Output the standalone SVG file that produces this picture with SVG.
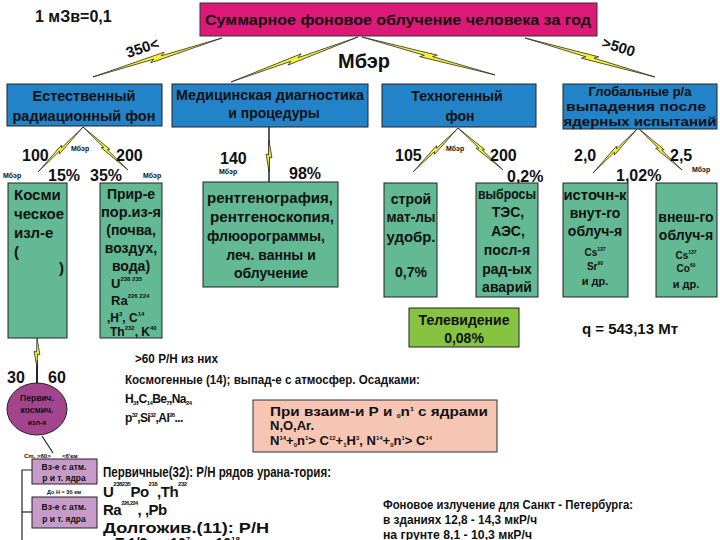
<svg xmlns="http://www.w3.org/2000/svg" width="720" height="540" viewBox="0 0 720 540">
<defs>
<style>
text{font-family:"Liberation Sans",Arial,sans-serif;fill:#111;font-weight:bold}
.c{text-anchor:middle}
.blue{fill:#2283C8;stroke:#222;stroke-width:1}
.grn{fill:#62B994;stroke:#222;stroke-width:1}
.bolt{fill:#F7F230;stroke:#2a2a2a;stroke-width:0.8;stroke-linejoin:miter}
.lav{fill:#C79BC9;stroke:#222;stroke-width:1}
</style>
<path id="bolt" d="M0,0 L56,-2.4 L53,-0.4 L100,0 L44,2.4 L47,0.4 Z" vector-effect="non-scaling-stroke"/>
</defs>
<rect width="720" height="540" fill="#fff"/>

<g id="connectors">
<use href="#bolt" class="bolt" transform="translate(222,38) rotate(163.2) scale(1.348,1.3)"/>
<use href="#bolt" class="bolt" transform="translate(358,37) rotate(160.5) scale(1.347,1.3)"/>
<use href="#bolt" class="bolt" transform="translate(362,37) rotate(15.9) scale(1.383,1.3)"/>
<use href="#bolt" class="bolt" transform="translate(525,38) rotate(16.7) scale(1.357,1.3)"/>
<use href="#bolt" class="bolt" transform="translate(83,127) rotate(135) scale(0.636,1)"/>
<use href="#bolt" class="bolt" transform="translate(83,127) rotate(43.7) scale(0.622,1)"/>
<use href="#bolt" class="bolt" transform="translate(458,128) rotate(135.6) scale(0.629,1)"/>
<use href="#bolt" class="bolt" transform="translate(458,128) rotate(43) scale(0.615,1)"/>
<use href="#bolt" class="bolt" transform="translate(638,128) rotate(135) scale(0.636,1)"/>
<use href="#bolt" class="bolt" transform="translate(638,128) rotate(43.7) scale(0.608,1)"/>
<line x1="269" y1="127" x2="269" y2="182" stroke="#222" stroke-width="1.5"/>
<use href="#bolt" class="bolt" transform="translate(269,140) rotate(90) scale(0.32,1.2)"/>
<line x1="37" y1="360" x2="37" y2="384" stroke="#223" stroke-width="2"/>
<use href="#bolt" class="bolt" transform="translate(37,338) rotate(90) scale(0.3,1.2)"/>
<line x1="42" y1="436" x2="53" y2="453" stroke="#222" stroke-width="1.2"/>
<polyline points="32,470 22,470 22,540" fill="none" stroke="#222" stroke-width="1.2"/>
<line x1="22" y1="512" x2="32" y2="512" stroke="#222" stroke-width="1.2"/>
</g>

<text x="35" y="22" font-size="16">1 мЗв=0,1</text>

<g id="top">
<rect x="200" y="3" width="397" height="33" fill="#DD1877" stroke="#333" stroke-width="1"/>
<text x="398" y="25" class="c" font-size="15" textLength="386" lengthAdjust="spacingAndGlyphs">Суммарное фоновое облучение человека за год</text>
</g>
<text x="128" y="58" font-size="15" transform="rotate(-18 128 58)">350&lt;</text>
<text x="338" y="68" font-size="20">Мбэр</text>
<text x="601" y="47" font-size="15" transform="rotate(17 601 47)">&gt;500</text>

<g id="natural">
<rect x="7" y="84" width="155" height="42" class="blue"/>
<text x="84" y="101" class="c" font-size="14" textLength="103" lengthAdjust="spacingAndGlyphs">Естественный</text>
<text x="84" y="121" class="c" font-size="14" textLength="143" lengthAdjust="spacingAndGlyphs">радиационный фон</text>
</g>
<g id="medical">
<rect x="172" y="84" width="196" height="43" class="blue"/>
<text x="270" y="100" class="c" font-size="14" textLength="188" lengthAdjust="spacingAndGlyphs">Медицинская диагностика</text>
<text x="274" y="118" class="c" font-size="14">и процедуры</text>
</g>
<g id="techno">
<rect x="382" y="84" width="154" height="43" class="blue"/>
<text x="457" y="101" class="c" font-size="14">Техногенный</text>
<text x="460" y="121" class="c" font-size="14">фон</text>
</g>
<g id="global">
<rect x="563" y="84" width="154" height="45" class="blue"/>
<text x="640" y="96" class="c" font-size="13">Глобальные р/а</text>
<text x="636" y="111" class="c" font-size="13" textLength="140" lengthAdjust="spacingAndGlyphs">выпадения после</text>
<text x="640" y="126" class="c" font-size="13" textLength="153" lengthAdjust="spacingAndGlyphs">ядерных испытаний</text>
</g>

<g font-size="16">
<text x="22" y="161">100</text>
<text x="116" y="161">200</text>
<text x="220" y="164">140</text>
<text x="395" y="161">105</text>
<text x="490" y="161">200</text>
<text x="574" y="161">2,0</text>
<text x="670" y="161">2,5</text>
<text x="48" y="181">15%</text>
<text x="90" y="181">35%</text>
<text x="289" y="179">98%</text>
<text x="507" y="182">0,2%</text>
<text x="616" y="181">1,02%</text>
</g>
<g font-size="7">
<text x="71" y="151">Мбэр</text>
<text x="3" y="178">Мбэр</text>
<text x="143" y="178">Мбэр</text>
<text x="219" y="174">Мбэр</text>
<text x="446" y="151">Мбэр</text>
<text x="692" y="172">Мбэр</text>
</g>

<g id="cosmic">
<rect x="8" y="183" width="59" height="155" class="grn"/>
<g font-size="15">
<text x="14" y="200">Косми</text>
<text x="14" y="219">ческое</text>
<text x="14" y="238">изл-е</text>
<text x="14" y="257">(</text>
<text x="59" y="273">)</text>
</g>
</g>
<g id="earth">
<rect x="100" y="183" width="62" height="155" class="grn"/>
<g font-size="14">
<text x="131" y="199" class="c">Прир-е</text>
<text x="131" y="217" class="c" textLength="60" lengthAdjust="spacingAndGlyphs">пор.из-я</text>
<text x="131" y="235" class="c">(почва,</text>
<text x="131" y="253" class="c">воздух,</text>
<text x="131" y="271" class="c">вода)</text>
<text x="111" y="288" font-size="13">U<tspan font-size="6" dy="-7">238 235</tspan></text>
<text x="111" y="305" font-size="13">Ra<tspan font-size="6" dy="-7">226 224</tspan></text>
<text x="107" y="322" font-size="12">,H<tspan font-size="6" dy="-6">3</tspan><tspan dy="6">, C</tspan><tspan font-size="6" dy="-6">14</tspan></text>
<text x="110" y="336" font-size="12">Th<tspan font-size="6" dy="-6">232</tspan><tspan dy="6">, K</tspan><tspan font-size="6" dy="-6">40</tspan></text>
</g>
</g>

<g id="medproc">
<rect x="203" y="182" width="135" height="105" class="grn"/>
<g font-size="14">
<text x="270" y="203" class="c" textLength="126" lengthAdjust="spacingAndGlyphs">рентгенография,</text>
<text x="272" y="222" class="c" textLength="124" lengthAdjust="spacingAndGlyphs">рентгеноскопия,</text>
<text x="266" y="241" class="c" textLength="118" lengthAdjust="spacingAndGlyphs">флюорограммы,</text>
<text x="271" y="260" class="c">леч. ванны и</text>
<text x="271" y="278" class="c">облучение</text>
</g>
</g>

<g id="build">
<rect x="384" y="183" width="53" height="114" class="grn"/>
<g font-size="14">
<text x="411" y="204" class="c">строй</text>
<text x="411" y="222" class="c" textLength="49" lengthAdjust="spacingAndGlyphs">мат-лы</text>
<text x="411" y="242" class="c" textLength="49" lengthAdjust="spacingAndGlyphs">удобр.</text>
<text x="411" y="277" class="c">0,7%</text>
</g>
</g>
<g id="emissions">
<rect x="476" y="183" width="62" height="114" class="grn"/>
<g font-size="14">
<text x="507" y="199" class="c" textLength="58" lengthAdjust="spacingAndGlyphs">выбросы</text>
<text x="508" y="217" class="c">ТЭС,</text>
<text x="508" y="236" class="c">АЭС,</text>
<text x="507" y="255" class="c">посл-я</text>
<text x="507" y="274" class="c">рад-ых</text>
<text x="507" y="292" class="c">аварий</text>
</g>
</g>
<g id="tv">
<rect x="409" y="308" width="110" height="39" fill="#86C340" stroke="#222" stroke-width="1"/>
<text x="464" y="325" class="c" font-size="14">Телевидение</text>
<text x="464" y="343" class="c" font-size="14">0,08%</text>
</g>

<g id="internal">
<rect x="563" y="183" width="65" height="114" class="grn"/>
<g font-size="14">
<text x="595" y="200" class="c" textLength="63" lengthAdjust="spacingAndGlyphs">источн-к</text>
<text x="595" y="218" class="c">внут-го</text>
<text x="595" y="236" class="c">облуч-я</text>
<text x="595" y="256" class="c" font-size="10">Cs<tspan font-size="5" dy="-5">137</tspan></text>
<text x="595" y="270" class="c" font-size="10">Sr<tspan font-size="5" dy="-5">90</tspan></text>
<text x="595" y="285" class="c" font-size="11">и др.</text>
</g>
</g>
<g id="external">
<rect x="656" y="183" width="61" height="114" class="grn"/>
<g font-size="14">
<text x="686" y="222" class="c">внеш-го</text>
<text x="686" y="240" class="c">облуч-я</text>
<text x="686" y="259" class="c" font-size="10">Cs<tspan font-size="5" dy="-5">137</tspan></text>
<text x="686" y="272" class="c" font-size="10">Co<tspan font-size="5" dy="-5">60</tspan></text>
<text x="686" y="288" class="c" font-size="11">и др.</text>
</g>
</g>
<text x="630" y="334" class="c" font-size="15">q = 543,13 Мт</text>

<text x="7" y="383" font-size="16">30</text>
<text x="48" y="383" font-size="16">60</text>
<g id="primary">
<ellipse cx="37" cy="409" rx="30" ry="26" fill="#A2458E" stroke="#222" stroke-width="1"/>
<text x="37" y="401" class="c" font-size="8.5">Первич.</text>
<text x="37" y="413" class="c" font-size="8.5">космич.</text>
<text x="37" y="425" class="c" font-size="7">изл-я</text>
</g>
<text x="24" y="458" font-size="6">Сm, &gt;60&gt;</text>
<text x="62" y="458" font-size="6">&lt;6'км</text>
<g id="int1">
<rect x="32" y="459" width="65" height="25" class="lav"/>
<text x="64" y="470" class="c" font-size="8.5">Вз-е с атм.</text>
<text x="64" y="481" class="c" font-size="8.5">р и т. ядра</text>
</g>
<text x="64" y="494" class="c" font-size="5.5">До Н = 3б км</text>
<g id="int2">
<rect x="32" y="497" width="65" height="31" class="lav"/>
<text x="64" y="510" class="c" font-size="8.5">Вз-е с атм.</text>
<text x="64" y="522" class="c" font-size="8.5">р и т. ядра</text>
</g>

<g id="notes">
<text x="135" y="363" font-size="13" textLength="83" lengthAdjust="spacingAndGlyphs">&gt;60 Р/Н из них</text>
<text x="125" y="384" font-size="13" textLength="295" lengthAdjust="spacingAndGlyphs">Космогенные (14); выпад-е с атмосфер. Осадками:</text>
<text x="125" y="403" font-size="12" letter-spacing="-0.6">H<tspan font-size="6" dy="2">3</tspan><tspan dy="-2">,C</tspan><tspan font-size="6" dy="2">14</tspan><tspan dy="-2">Be</tspan><tspan font-size="6" dy="2">7</tspan><tspan dy="-2">,Na</tspan><tspan font-size="6" dy="2">24</tspan></text>
<text x="125" y="422" font-size="12" letter-spacing="-0.6">p<tspan font-size="6" dy="-5">32</tspan><tspan dy="5">,Si</tspan><tspan font-size="6" dy="-5">32</tspan><tspan dy="5">,Al</tspan><tspan font-size="6" dy="-5">26</tspan><tspan dy="5">...</tspan></text>
<text x="103" y="477" font-size="15" textLength="228" lengthAdjust="spacingAndGlyphs">Первичные(32): Р/Н рядов урана-тория:</text>
<text x="103" y="497" font-size="15" letter-spacing="-0.5">U<tspan font-size="6" dy="-11">238235</tspan><tspan dy="11">Po</tspan><tspan font-size="6" dy="-11">218</tspan><tspan dy="11">,Th</tspan><tspan font-size="6" dy="-11">232</tspan></text>
<text x="103" y="515" font-size="15" letter-spacing="-0.5">Ra<tspan font-size="5.5" dy="-10">226,224</tspan><tspan dy="10">, ,Pb</tspan></text>
<text x="103" y="533" font-size="15" textLength="166" lengthAdjust="spacingAndGlyphs">Долгожив.(11): Р/Н</text>
<text x="103" y="548" font-size="14">в Т 1/2 от 10<tspan font-size="8" dy="-6">7</tspan><tspan dy="6"> до 10</tspan><tspan font-size="8" dy="-6">18</tspan></text>
<text x="383" y="509" font-size="12" textLength="250" lengthAdjust="spacingAndGlyphs">Фоновое излучение для Санкт - Петербурга:</text>
<text x="383" y="524" font-size="12" textLength="154" lengthAdjust="spacingAndGlyphs">в зданиях 12,8 - 14,3 мкР/ч</text>
<text x="383" y="539" font-size="12" textLength="149" lengthAdjust="spacingAndGlyphs">на грунте 8,1 - 10,3 мкР/ч</text>
</g>

<g id="reaction">
<rect x="253" y="400" width="244" height="52" fill="#F6C5B3" stroke="#333" stroke-width="1"/>
<text x="270" y="416" font-size="13" textLength="218" lengthAdjust="spacingAndGlyphs">При взаим-и Р и <tspan font-size="6" dy="2">0</tspan><tspan dy="-2">n</tspan><tspan font-size="6" dy="-5">1</tspan><tspan dy="5"> с ядрами</tspan></text>
<text x="270" y="430" font-size="13">N,O,Ar.</text>
<text x="270" y="445" font-size="13">N<tspan font-size="6" dy="-5">14</tspan><tspan dy="5">+</tspan><tspan font-size="6" dy="2">0</tspan><tspan dy="-2">n</tspan><tspan font-size="6" dy="-5">1</tspan><tspan dy="5">&gt; C</tspan><tspan font-size="6" dy="-5">12</tspan><tspan dy="5">+</tspan><tspan font-size="6" dy="2">1</tspan><tspan dy="-2">H</tspan><tspan font-size="6" dy="-5">3</tspan><tspan dy="5">, N</tspan><tspan font-size="6" dy="-5">14</tspan><tspan dy="5">+</tspan><tspan font-size="6" dy="2">0</tspan><tspan dy="-2">n</tspan><tspan font-size="6" dy="-5">1</tspan><tspan dy="5">&gt; C</tspan><tspan font-size="6" dy="-5">14</tspan></text>
</g>
</svg>
